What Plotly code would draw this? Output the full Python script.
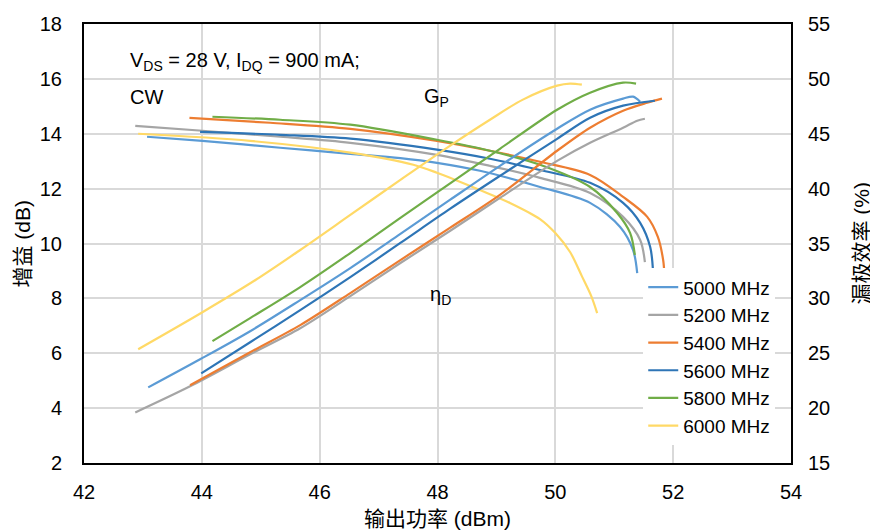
import plotly.graph_objects as go

# ---------------- data ----------------
freqs = ["5000 MHz", "5200 MHz", "5400 MHz", "5600 MHz", "5800 MHz", "6000 MHz"]
colors = ["#5B9BD5", "#A5A5A5", "#ED7D31", "#2E75B6", "#70AD47", "#FFD966"]

# Gain (dB) vs output power (dBm)
gain_p_5000 = [43.07, 44.01, 45.33, 46.52, 47.37, 47.99, 48.72, 49.74, 50.59, 51.10, 51.32, 51.39]
gain_v_5000 = [13.89, 13.74, 13.49, 13.27, 13.11, 12.94, 12.65, 12.06, 11.48, 10.60, 9.76, 8.92]
gain_p_5200 = [42.87, 44.01, 45.33, 46.52, 47.99, 48.89, 49.74, 50.59, 51.15, 51.44, 51.52]
gain_v_5200 = [14.29, 14.11, 13.89, 13.67, 13.23, 12.83, 12.39, 11.84, 10.97, 10.13, 9.32]
gain_p_5400 = [43.79, 45.16, 46.52, 47.99, 48.89, 49.74, 50.59, 51.15, 51.56, 51.74, 51.83, 51.85]
gain_v_5400 = [14.58, 14.40, 14.18, 13.74, 13.38, 12.98, 12.50, 11.70, 10.97, 10.24, 9.40, 8.92]
gain_p_5600 = [43.97, 45.33, 46.52, 47.99, 48.89, 49.74, 50.59, 51.15, 51.44, 51.61, 51.66]
gain_v_5600 = [14.07, 13.96, 13.82, 13.42, 13.09, 12.68, 12.21, 11.48, 10.75, 9.87, 8.92]
gain_p_5800 = [44.18, 45.33, 46.52, 47.99, 48.89, 49.74, 50.59, 51.05, 51.27, 51.35]
gain_v_5800 = [14.62, 14.51, 14.33, 13.78, 13.38, 12.87, 12.06, 11.11, 10.38, 9.58]
gain_p_6000 = [42.92, 44.82, 46.52, 47.59, 47.99, 48.72, 49.23, 49.74, 50.00, 50.25, 50.45, 50.61, 50.71]
gain_v_6000 = [14.00, 13.74, 13.31, 12.87, 12.58, 11.95, 11.48, 10.89, 10.38, 9.69, 8.81, 8.08, 7.46]

# Drain efficiency (%) vs output power (dBm)
eff_p_5000 = [43.09, 43.97, 44.82, 45.67, 46.52, 47.37, 48.21, 49.06, 50.03, 50.59, 51.15, 51.32, 51.44]
eff_v_5000 = [21.89, 24.45, 27.01, 29.84, 32.76, 35.87, 38.97, 42.08, 45.46, 47.19, 48.20, 48.38, 47.92]
eff_p_5200 = [42.87, 43.80, 44.82, 45.67, 46.52, 47.37, 48.21, 49.06, 50.03, 50.59, 51.15, 51.39, 51.52]
eff_v_5200 = [19.61, 21.99, 24.91, 27.28, 30.21, 33.22, 36.14, 39.16, 42.53, 44.18, 45.55, 46.19, 46.37]
eff_p_5400 = [43.80, 44.82, 45.67, 46.52, 47.37, 48.21, 49.06, 50.03, 50.59, 51.15, 51.56, 51.81]
eff_v_5400 = [22.08, 25.09, 27.56, 30.48, 33.49, 36.42, 39.43, 43.45, 45.55, 47.10, 47.83, 48.20]
eff_p_5600 = [43.99, 44.82, 45.67, 46.52, 47.37, 48.21, 49.06, 50.03, 50.59, 51.15, 51.69]
eff_v_5600 = [23.17, 26.00, 28.93, 31.94, 35.05, 38.15, 41.16, 44.54, 46.46, 47.56, 48.01]
eff_p_5800 = [44.18, 44.82, 45.67, 46.52, 47.37, 48.30, 49.06, 50.03, 50.59, 51.15, 51.37]
eff_v_5800 = [26.10, 28.20, 31.03, 34.13, 37.33, 40.80, 43.63, 47.19, 48.74, 49.66, 49.57]
eff_p_6000 = [42.92, 44.01, 44.91, 45.67, 46.52, 47.37, 48.21, 48.89, 49.45, 50.03, 50.25, 50.45]
eff_v_6000 = [25.37, 28.74, 31.67, 34.41, 37.60, 40.80, 43.90, 46.28, 48.11, 49.38, 49.57, 49.47]

gain_p = [gain_p_5000, gain_p_5200, gain_p_5400, gain_p_5600, gain_p_5800, gain_p_6000]
gain_v = [gain_v_5000, gain_v_5200, gain_v_5400, gain_v_5600, gain_v_5800, gain_v_6000]
eff_p = [eff_p_5000, eff_p_5200, eff_p_5400, eff_p_5600, eff_p_5800, eff_p_6000]
eff_v = [eff_v_5000, eff_v_5200, eff_v_5400, eff_v_5600, eff_v_5800, eff_v_6000]

x_ticks = [42, 44, 46, 48, 50, 52, 54]

# ---------------- figure ----------------
FONT = "Liberation Sans, Arial, Noto Sans CJK SC, sans-serif"

fig = go.Figure()
for i, name in enumerate(freqs):
    fig.add_trace(go.Scatter(
        x=gain_p[i], y=gain_v[i], mode="lines", name=name,
        legendgroup=name, showlegend=True,
        line=dict(color=colors[i], width=2.2, shape="spline", smoothing=0.9),
        hoverinfo="skip"))
    fig.add_trace(go.Scatter(
        x=eff_p[i], y=eff_v[i], mode="lines", name=name, yaxis="y2",
        legendgroup=name, showlegend=False,
        line=dict(color=colors[i], width=2.2, shape="spline", smoothing=0.9),
        hoverinfo="skip"))

# white boxes behind the labels and legend (they hide gridlines, like the original)
boxes = [
    (42.48, 47.90, 15.26, 17.85),
    (47.72, 48.52, 14.43, 16.20),
    (47.53, 48.60, 7.19, 9.09),
    (51.20, 53.76, 2.75, 8.89),
]
for x0, x1, y0, y1 in boxes:
    fig.add_shape(type="rect", xref="x", yref="y", x0=x0, x1=x1, y0=y0, y1=y1,
                  fillcolor="white", line=dict(width=0), layer="below")

ann_font = dict(family=FONT, size=20, color="#000000")
fig.add_annotation(x=42.75, y=16.62, xref="x", yref="y", xanchor="left",
                   text="V<sub>DS</sub> = 28 V, I<sub>DQ</sub> = 900 mA;",
                   showarrow=False, font=ann_font)
fig.add_annotation(x=42.75, y=15.33, xref="x", yref="y", xanchor="left",
                   text="CW", showarrow=False, font=ann_font)
fig.add_annotation(x=47.98, y=15.33, xref="x", yref="y",
                   text="G<sub>P</sub>", showarrow=False, font=ann_font)
fig.add_annotation(x=48.05, y=8.12, xref="x", yref="y",
                   text="η<sub>D</sub>", showarrow=False, font=ann_font)

# axis titles
title_font = dict(family=FONT, size=21, color="#000000")
fig.add_annotation(x=0.5, y=0, xref="paper", yref="paper", yanchor="middle",
                   yshift=-55, text="输出功率 (dBm)", showarrow=False, font=title_font)
fig.add_annotation(x=0, y=0.5, xref="paper", yref="paper", xanchor="center",
                   xshift=-62, textangle=-90, text="增益 (dB)", showarrow=False,
                   font=title_font)
fig.add_annotation(x=1, y=0.5, xref="paper", yref="paper", xanchor="center",
                   xshift=70, textangle=-90, text="漏极效率 (%)", showarrow=False,
                   font=title_font)

# the page body has an 8 px margin, so the figure is sized to fit the window
fig.update_layout(
    width=870, height=523,
    margin=dict(l=76, r=87, t=16, b=68),
    paper_bgcolor="white", plot_bgcolor="white",
    font=dict(family=FONT, size=20, color="#000000"),
    showlegend=True,
    legend=dict(x=0.791, y=0.4435, xanchor="left", yanchor="top",
                bgcolor="white", borderwidth=0, tracegroupgap=0,
                font=dict(family=FONT, size=19, color="#000000")),
    xaxis=dict(range=[42, 54], tickvals=x_ticks, showgrid=True,
               gridcolor="#D9D9D9", gridwidth=1.5, showline=True,
               linecolor="black", linewidth=2, mirror=True, ticks="",
               zeroline=False, ticklabelstandoff=10, automargin=False,
               tickfont=dict(size=20)),
    yaxis=dict(range=[2, 18], dtick=2, showgrid=True, gridcolor="#D9D9D9",
               gridwidth=1.5, showline=True, linecolor="black", linewidth=2,
               mirror=True, ticks="", zeroline=False, ticklabelstandoff=16,
               automargin=False, tickfont=dict(size=20)),
    yaxis2=dict(range=[15, 55], dtick=5, overlaying="y", side="right",
                showgrid=False, showline=False, ticks="", zeroline=False,
                ticklabelstandoff=16, automargin=False, tickfont=dict(size=20)),
    hovermode=False,
)

fig.write_html("out.html")
